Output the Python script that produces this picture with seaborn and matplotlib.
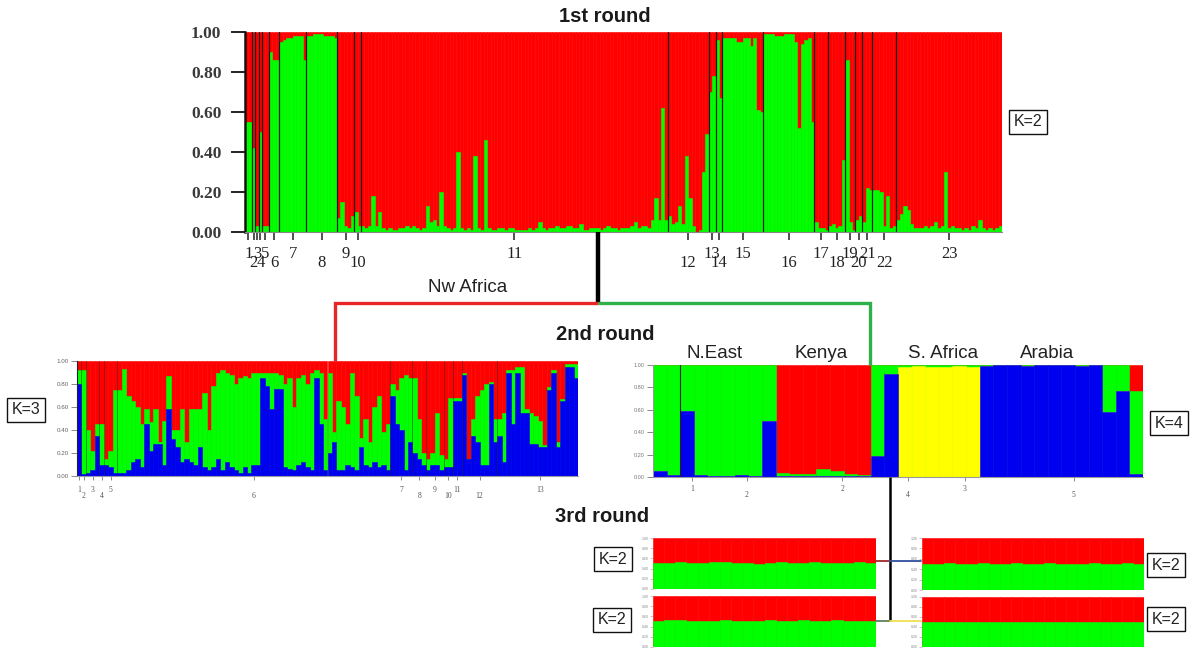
import numpy as np
import matplotlib
matplotlib.use("Agg")
import matplotlib.pyplot as plt
import seaborn as sns

# ---------------------------------------------------------------
# Datos: fracciones de pertenencia (Q)
# ---------------------------------------------------------------

# 1st round, K=2: fraccion verde de cada individuo, por poblacion (1..23)
top_labels = [str(i) for i in range(1, 24)]
top_green = [
    [0.55, 0.55],                                                # 1
    [0.42],                                                      # 2
    [0.03],                                                      # 3
    [0.50],                                                      # 4
    [0.03, 0.03],                                                # 5
    [0.90, 0.86, 0.86],                                          # 6
    [0.95, 0.96, 0.97, 0.97, 0.98, 0.98, 0.98, 0.86],            # 7
    [0.98, 0.98, 0.99, 0.99, 0.99, 0.98, 0.98, 0.98, 0.97],      # 8
    [0.07, 0.15, 0.03, 0.02, 0.08],                              # 9
    [0.10, 0.03],                                                # 10
    [0.03, 0.02, 0.03, 0.18, 0.03, 0.10, 0.02, 0.01, 0.02, 0.01,  # 11
     0.01, 0.02, 0.02, 0.03, 0.02, 0.03, 0.02, 0.01, 0.02, 0.13,
     0.05, 0.06, 0.03, 0.20, 0.03, 0.02, 0.01, 0.02, 0.40, 0.02,
     0.01, 0.02, 0.01, 0.38, 0.02, 0.01, 0.46, 0.02, 0.01, 0.01,
     0.02, 0.02, 0.01, 0.02, 0.02, 0.01, 0.01, 0.01, 0.01, 0.02,
     0.01, 0.02, 0.05, 0.02, 0.01, 0.02, 0.02, 0.03, 0.02, 0.02,
     0.03, 0.03, 0.02, 0.02, 0.04, 0.01, 0.01, 0.02, 0.02, 0.02,
     0.01, 0.02, 0.03, 0.02, 0.02, 0.01, 0.02, 0.02, 0.02, 0.03,
     0.05, 0.02, 0.03, 0.03, 0.02, 0.06, 0.17, 0.06, 0.62, 0.06],
    [0.08, 0.04, 0.05, 0.13, 0.04, 0.38, 0.17, 0.03, 0.00, 0.01, 0.30, 0.49],  # 12
    [0.70, 0.78],                                                # 13
    [0.96, 0.67],                                                # 14
    [0.97, 0.97, 0.97, 0.97, 0.95, 0.95, 0.97, 0.97, 0.93, 0.97, 0.61, 0.60],  # 15
    [0.99, 0.99, 0.99, 0.98, 0.98, 0.98, 0.99, 0.99, 0.99, 0.95,
     0.52, 0.94, 0.96, 0.97, 0.55],                              # 16
    [0.05, 0.02, 0.02, 0.01],                                    # 17
    [0.03, 0.04, 0.02, 0.03, 0.36],                              # 18
    [0.86, 0.05, 0.01],                                          # 19
    [0.06, 0.08],                                                # 20
    [0.05, 0.22, 0.21],                                          # 21
    [0.21, 0.21, 0.20, 0.03, 0.18, 0.02, 0.03],                  # 22
    [0.06, 0.09, 0.13, 0.11, 0.04, 0.02, 0.02, 0.02, 0.03, 0.02,  # 23
     0.03, 0.05, 0.02, 0.03, 0.30, 0.02, 0.03, 0.02, 0.02, 0.01,
     0.02, 0.01, 0.03, 0.02, 0.06, 0.02, 0.01, 0.02, 0.01, 0.02, 0.03],
]

# 2nd round, Nw Africa, K=3 (azul, verde; rojo = resto)
k3_labels = [str(i) for i in range(1, 14)]
k3_sizes = [1, 1, 3, 1, 3, 61, 5, 3, 4, 2, 2, 8, 19]
k3_blue = [
    0.80, 0.02, 0.03, 0.05, 0.35, 0.10, 0.10, 0.08, 0.03, 0.03,
    0.03, 0.05, 0.12, 0.15, 0.08, 0.45, 0.22, 0.28, 0.28, 0.10,
    0.58, 0.32, 0.25, 0.12, 0.15, 0.12, 0.10, 0.25, 0.08, 0.05,
    0.08, 0.15, 0.05, 0.12, 0.08, 0.05, 0.03, 0.08, 0.03, 0.10,
    0.10, 0.85, 0.78, 0.58, 0.76, 0.76, 0.08, 0.06, 0.05, 0.10,
    0.12, 0.08, 0.05, 0.85, 0.45, 0.05, 0.20, 0.30, 0.05, 0.05,
    0.10, 0.08, 0.05, 0.25, 0.10, 0.08, 0.12, 0.08, 0.10, 0.05,
    0.70, 0.45, 0.40, 0.05, 0.30, 0.20, 0.15, 0.10, 0.05, 0.10,
    0.10, 0.05, 0.08, 0.08, 0.65, 0.65, 0.88, 0.15, 0.35, 0.30,
    0.10, 0.10, 0.80, 0.30, 0.35, 0.12, 0.90, 0.45, 0.90, 0.55,
    0.55, 0.28, 0.28, 0.25, 0.25, 0.75, 0.90, 0.25, 0.65, 0.95,
    0.95, 0.85,
]
k3_green = [
    0.12, 0.90, 0.37, 0.17, 0.10, 0.35, 0.05, 0.14, 0.72, 0.72,
    0.90, 0.65, 0.53, 0.45, 0.37, 0.13, 0.25, 0.30, 0.02, 0.38,
    0.29, 0.08, 0.15, 0.46, 0.15, 0.46, 0.48, 0.33, 0.64, 0.35,
    0.70, 0.75, 0.87, 0.78, 0.80, 0.75, 0.82, 0.79, 0.82, 0.80,
    0.80, 0.05, 0.12, 0.32, 0.14, 0.12, 0.72, 0.79, 0.55, 0.75,
    0.76, 0.72, 0.85, 0.07, 0.45, 0.45, 0.70, 0.08, 0.60, 0.55,
    0.35, 0.82, 0.65, 0.08, 0.40, 0.22, 0.48, 0.62, 0.28, 0.40,
    0.10, 0.30, 0.45, 0.83, 0.55, 0.65, 0.35, 0.10, 0.10, 0.10,
    0.45, 0.13, 0.07, 0.60, 0.03, 0.03, 0.02, 0.00, 0.15, 0.40,
    0.65, 0.70, 0.02, 0.20, 0.15, 0.43, 0.02, 0.47, 0.05, 0.40,
    0.03, 0.27, 0.24, 0.23, 0.02, 0.02, 0.02, 0.05, 0.02, 0.02,
    0.02, 0.12,
]

# 2nd round, resto, K=4 (azul, amarillo, verde; rojo = resto)
k4_labels = ["1", "2", "2", "4", "3", "5"]
k4_tick_pos = [2.4, 6.4, 13.4, 18.2, 22.4, 30.4]
k4_regions = ["N.East", "Kenya", "S. Africa", "Arabia"]
k4_blue = [0.05, 0.02, 0.59, 0.02, 0.01, 0.01, 0.02, 0.01, 0.50,
           0.01, 0.01, 0.01, 0.01, 0.01, 0.01, 0.01,
           0.19, 0.92,
           0.00, 0.00, 0.00, 0.00, 0.00, 0.00,
           0.99, 1.00, 1.00, 0.99, 1.00, 1.00, 1.00, 0.99, 1.00,
           0.58, 0.77, 0.03]
k4_yellow = [0.00, 0.00, 0.00, 0.00, 0.00, 0.00, 0.00, 0.00, 0.00,
             0.00, 0.00, 0.00, 0.00, 0.00, 0.00, 0.00,
             0.00, 0.00,
             0.98, 0.99, 0.98, 0.98, 0.99, 0.98,
             0.00, 0.00, 0.00, 0.00, 0.00, 0.00, 0.00, 0.00, 0.00,
             0.00, 0.00, 0.00]
k4_green = [0.95, 0.98, 0.41, 0.98, 0.99, 0.99, 0.98, 0.99, 0.50,
            0.03, 0.02, 0.02, 0.06, 0.04, 0.02, 0.01,
            0.81, 0.08,
            0.02, 0.01, 0.02, 0.02, 0.01, 0.02,
            0.01, 0.00, 0.00, 0.01, 0.00, 0.00, 0.00, 0.01, 0.00,
            0.42, 0.23, 0.74]

# 3rd round, K=2 (fraccion verde)
r3_green = [
    [0.51, 0.51, 0.52, 0.51, 0.51, 0.52, 0.52, 0.51, 0.51, 0.50,
     0.51, 0.52, 0.51, 0.51, 0.52, 0.51, 0.51, 0.51, 0.52, 0.51],
    [0.51, 0.52, 0.52, 0.51, 0.51, 0.51, 0.52, 0.51, 0.51, 0.51,
     0.52, 0.51, 0.51, 0.52, 0.51, 0.51, 0.52, 0.51, 0.51, 0.51],
    [0.50, 0.50, 0.51, 0.50, 0.50, 0.51, 0.50, 0.50, 0.51, 0.50,
     0.50, 0.51, 0.50, 0.50, 0.50, 0.51, 0.50, 0.50, 0.51, 0.50],
    [0.50, 0.51, 0.51, 0.50, 0.50, 0.51, 0.50, 0.51, 0.50, 0.50,
     0.51, 0.50, 0.50, 0.51, 0.50, 0.50, 0.51, 0.50, 0.50, 0.51],
]

# ---------------------------------------------------------------
W, H = 1195, 652
RED, GREEN, BLUE, YELLOW = "#ff0000", "#00ff00", "#0000f0", "#ffff00"

sns.set_style("white")
plt.rcParams["font.family"] = ["Liberation Sans", "DejaVu Sans"]

fig = plt.figure(figsize=(W / 100, H / 100), dpi=100)


def rect(x, y, w, h):
    # caja en pixeles (desde arriba-izquierda) -> fraccion de figura
    return [x / W, 1 - (y + h) / H, w / W, h / H]


def draw_stack(ax, layers, colors):
    cum = np.cumsum(np.array(layers, dtype=float), axis=0)
    idx = np.arange(cum.shape[1])
    for k in range(len(layers) - 1, -1, -1):
        sns.barplot(x=idx, y=cum[k], color=colors[k], width=1, saturation=1,
                    errorbar=None, linewidth=0.4, edgecolor=colors[k],
                    orient="v", ax=ax)
    ax.set_xlim(-0.5, len(idx) - 0.5)
    ax.set_ylim(0, 1)
    ax.set_xlabel("")
    ax.set_ylabel("")


def group_edges(sizes):
    edges = np.concatenate([[0], np.cumsum(sizes)]) - 0.5
    return edges, (edges[:-1] + edges[1:]) / 2


yt = [0, 0.2, 0.4, 0.6, 0.8, 1.0]
ytl = ["0.00", "0.20", "0.40", "0.60", "0.80", "1.00"]

# ---- 1st round ----
ax1 = fig.add_axes(rect(245, 32, 757, 200))
g1 = np.concatenate([np.array(v) for v in top_green])
draw_stack(ax1, [g1, 1 - g1], [GREEN, RED])
edges, centers = group_edges([len(v) for v in top_green])
for e in edges[1:-1]:
    ax1.axvline(e, color="#1a1a1a", lw=0.9)
ax1.set_yticks(yt)
ax1.set_yticklabels(ytl, fontsize=12.5, color="#3a3a3a",
                    family="Liberation Serif", fontweight="bold")
ax1.set_xticks(centers)
ax1.set_xticklabels([])
ax1.tick_params(axis="y", length=10, width=1.4, color="#222", pad=7, left=True)
ax1.tick_params(axis="x", length=6, width=1.2, color="#333", bottom=True)
for c, lab in zip(centers, top_labels):
    yy = -0.11 if int(lab) % 2 else -0.155
    ax1.text(c, yy, lab, transform=ax1.get_xaxis_transform(), ha="center",
             va="center", fontsize=12, family="Liberation Serif", color="#222")
sns.despine(ax=ax1, top=True, right=True)
ax1.spines["left"].set_color("#111")
ax1.spines["left"].set_linewidth(1.8)
ax1.spines["bottom"].set_color("#888")

# ---- 2nd round, K=3 ----
ax2 = fig.add_axes(rect(77, 361, 501, 115))
kb = np.array(k3_blue)
kg = np.array(k3_green)
draw_stack(ax2, [kb, kg, 1 - kb - kg], [BLUE, GREEN, RED])
edges, centers = group_edges(k3_sizes)
for e in edges[1:-1]:
    ax2.axvline(e, color="#202020", lw=0.5, alpha=0.6)
ax2.set_yticks(yt)
ax2.set_yticklabels(ytl, fontsize=4.5, color="#666")
ax2.set_xticks(centers)
ax2.set_xticklabels([])
ax2.tick_params(axis="y", length=4, width=0.6, color="#777", pad=2, left=True)
ax2.tick_params(axis="x", length=3, width=0.6, color="#777", bottom=True)
for i, (c, lab) in enumerate(zip(centers, k3_labels)):
    yy = -0.12 if i % 2 == 0 else -0.17
    ax2.text(c, yy, lab, transform=ax2.get_xaxis_transform(), ha="center",
             va="center", fontsize=5.5, family="Liberation Serif", color="#555")
sns.despine(ax=ax2, top=True, right=True)
ax2.spines["left"].set_color("#223")
ax2.spines["bottom"].set_color("#99a")

# ---- 2nd round, K=4 ----
ax3 = fig.add_axes(rect(653, 365, 490, 112))
b4 = np.array(k4_blue)
y4 = np.array(k4_yellow)
g4 = np.array(k4_green)
draw_stack(ax3, [b4, y4, g4, 1 - b4 - y4 - g4], [BLUE, YELLOW, GREEN, RED])
ax3.axvline(2 - 0.5, color="#202020", lw=0.8)
ax3.set_yticks(yt)
ax3.set_yticklabels(ytl, fontsize=4, color="#777")
ax3.set_xticks(k4_tick_pos)
ax3.set_xticklabels([])
ax3.tick_params(axis="y", length=4, width=0.6, color="#777", pad=2, left=True)
ax3.tick_params(axis="x", length=3, width=0.6, color="#777", bottom=True)
for i, (c, lab) in enumerate(zip(k4_tick_pos, k4_labels)):
    yy = -0.11 if i % 2 == 0 else -0.16
    ax3.text(c, yy, lab, transform=ax3.get_xaxis_transform(), ha="center",
             va="center", fontsize=5.5, family="Liberation Serif", color="#555")
sns.despine(ax=ax3, top=True, right=True)
ax3.spines["left"].set_color("#999")
ax3.spines["bottom"].set_color("#999")

# ---- 3rd round ----
r3_boxes = [(653, 538, 223, 51), (653, 596, 223, 51),
            (922, 538, 222, 52), (922, 597, 222, 50)]
for box, gv in zip(r3_boxes, r3_green):
    ax = fig.add_axes(rect(*box))
    gg = np.array(gv)
    draw_stack(ax, [gg, 1 - gg], [GREEN, RED])
    ax.set_yticks(yt)
    ax.set_yticklabels(ytl, fontsize=2.5, color="#888")
    ax.set_xticks([])
    ax.tick_params(axis="y", length=2, width=0.4, color="#999", pad=1, left=True)
    sns.despine(ax=ax, top=True, right=True, left=True, bottom=True)

# ---- arbol, titulos y etiquetas (coordenadas en pixeles) ----
ov = fig.add_axes([0, 0, 1, 1], zorder=10)
ov.set_xlim(0, W)
ov.set_ylim(H, 0)
ov.axis("off")
ov.patch.set_alpha(0)

ov.plot([598, 598], [232, 303], color="black", lw=3.2, solid_capstyle="butt")
ov.plot([598, 335, 335], [303, 303, 361], color="#e8262a", lw=2.4,
        solid_capstyle="butt", solid_joinstyle="miter")
ov.plot([598, 870, 870], [303, 303, 365], color="#30b04a", lw=2.4,
        solid_capstyle="butt", solid_joinstyle="miter")
ov.plot([890, 890], [477, 621], color="black", lw=1.8, solid_capstyle="butt")
ov.plot([876, 890], [561, 561], color="#a02a2a", lw=1.3)
ov.plot([890, 921], [561, 561], color="#2f4fa0", lw=1.3)
ov.plot([876, 890], [621, 621], color="#5f7f5f", lw=1.3)
ov.plot([890, 921], [621, 621], color="#f0e050", lw=1.3)

bold = dict(fontsize=14.5, fontweight="bold", color="#1a1a1a", ha="center", va="center")
ov.text(605, 17, "1st round", **bold)
ov.text(605, 334, "2nd round", **bold)
ov.text(602, 516, "3rd round", **bold)

lab = dict(fontsize=13.5, color="#222", ha="center", va="center")
ov.text(468, 288, "Nw Africa", **lab)
for txt, x in zip(k4_regions, [715, 821, 943, 1047]):
    ov.text(x, 353, txt, **lab)

kbox = dict(boxstyle="square,pad=0.28", fc="white", ec="#111", lw=1.0)
kt = dict(fontsize=11.5, color="#222", ha="center", va="center", bbox=kbox)
ov.text(1028, 122, "K=2", **kt)
ov.text(26, 410, "K=3", **kt)
ov.text(1169, 423, "K=4", **kt)
ov.text(613, 559, "K=2", **kt)
ov.text(612, 620, "K=2", **kt)
ov.text(1166, 565, "K=2", **kt)
ov.text(1166, 619, "K=2", **kt)

fig.savefig("out.png", dpi=100)
